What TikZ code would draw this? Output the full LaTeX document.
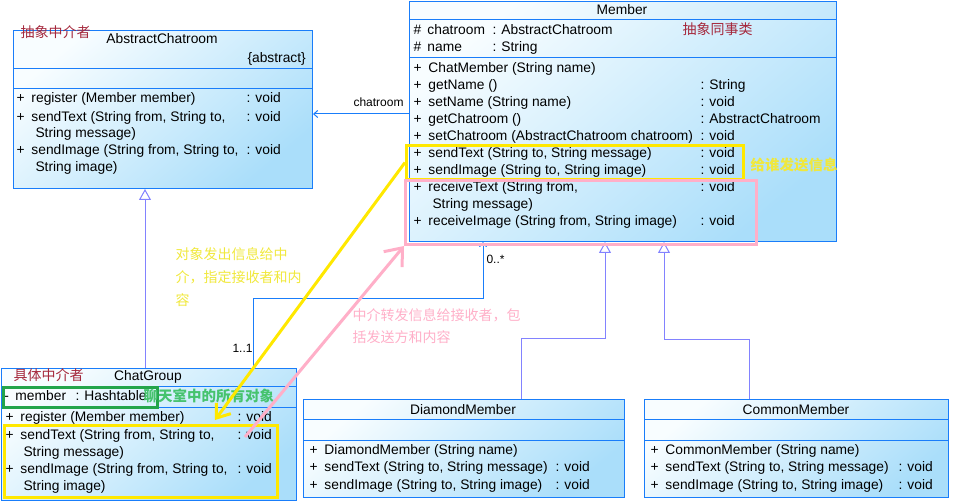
\documentclass[tikz,border=0pt]{standalone}
\usepackage{fontspec}
\setmainfont{Liberation Sans}
\newfontfamily\cjk{Noto Sans CJK SC}
\usepackage{xcolor}
\usepackage{tikz}
\usetikzlibrary{arrows.meta,positioning}

\definecolor{umlblue}{RGB}{25,125,250}
\definecolor{umllight}{RGB}{248,253,255}
\definecolor{umldark}{RGB}{170,222,250}
\definecolor{genline}{RGB}{130,130,255}
\definecolor{notered}{RGB}{165,40,60}
\definecolor{noteyellow}{RGB}{255,232,0}
\definecolor{textyellow}{RGB}{240,232,60}
\definecolor{notepink}{RGB}{255,175,200}
\definecolor{notegreen}{RGB}{35,165,75}
\definecolor{textgreen}{RGB}{70,195,110}

\newcommand{\umlplus}{\makebox[15pt][l]{+}}
\newcommand{\umlhash}{\makebox[14pt][l]{\#}}

\begin{document}
\begin{tikzpicture}[x=1pt,y=-1pt,line width=1pt,
    font=\fontsize{13.8}{17}\selectfont,
    classbox/.style={draw=umlblue,rectangle,inner sep=0pt,anchor=north west,
      top color=umllight,bottom color=umldark,shading angle=40},
    row/.style={anchor=base west,inner sep=0pt},
    title/.style={anchor=base,inner sep=0pt},
    cn/.style={anchor=base west,inner sep=0pt,font=\cjk\fontsize{14}{17}\selectfont},
    small/.style={anchor=base west,inner sep=0pt,font=\fontsize{12}{14}\selectfont},
    mark/.style={draw=#1,line width=3pt,rectangle,inner sep=0pt,anchor=north west},
    gen/.style={draw=genline,-{Triangle[fill=white,length=11pt,width=12pt,line width=1pt]}},
    assoc/.style={draw=umlblue,-{Straight Barb[length=4pt,width=7pt,line width=1pt]}},
    yarrow/.style={draw=noteyellow,line width=3pt,-{Straight Barb[length=12pt,width=18pt]}},
    parrow/.style={draw=notepink,line width=3pt,-{Straight Barb[length=15pt,width=24pt]}}]
  \useasboundingbox (0,0) rectangle (953,502);

  % class boxes
  \node[classbox,minimum width=299pt,minimum height=158pt] (abstract) at (13,30) {};
  \node[classbox,minimum width=427pt,minimum height=240pt] (member) at (409,1) {};
  \node[classbox,minimum width=295pt,minimum height=132pt] (group) at (1,368) {};
  \node[classbox,minimum width=321pt,minimum height=98pt] (diamond) at (303,399) {};
  \node[classbox,minimum width=304pt,minimum height=98pt] (common) at (644,399) {};

  % compartments
  \foreach \y in {69,89} \draw[umlblue] (abstract.west |- 0,\y) -- (abstract.east |- 0,\y);
  \foreach \y in {20,58} \draw[umlblue] (member.west |- 0,\y) -- (member.east |- 0,\y);
  \foreach \y in {387,407} \draw[umlblue] (group.west |- 0,\y) -- (group.east |- 0,\y);
  \foreach \y in {419,440} {
    \draw[umlblue] (diamond.west |- 0,\y) -- (diamond.east |- 0,\y);
    \draw[umlblue] (common.west |- 0,\y) -- (common.east |- 0,\y);
  }

  % AbstractChatroom
  \node[title] (abs-title) at (162,44) {AbstractChatroom};
  \node[row] (abs-tag) at (247,63) {\{abstract\}};
  \node[cn,text=notered] (abs-note) at (20,38) {抽象中介者};
  \foreach \y/\txt [count=\i] in {103/{register (Member member)},
      122/{sendText (String from, String to,},155/{sendImage (String from, String to,}}
    \node[row] (abs-op\i) at (16,\y) {\umlplus\txt};
  \node[row] (abs-cont1) at (35,138) {String message)};
  \node[row] (abs-cont2) at (35,172) {String image)};
  \foreach \y [count=\i] in {103,122,155}
    \node[row] (abs-type\i) at (246,\y) {: void};

  % Member
  \node[title] (mem-title) at (622,15) {Member};
  \node[cn,text=notered] (mem-note) at (682,35) {抽象同事类};
  \node[row] (mem-attr1) at (413,35) {\umlhash chatroom};
  \node[row] (mem-attr2) at (413,52) {\umlhash name};
  \node[row] (mem-atype1) at (492,35) {: AbstractChatroom};
  \node[row] (mem-atype2) at (492,52) {: String};
  \foreach \y/\txt [count=\i] in {73/{ChatMember (String name)},90/{getName ()},
      107/{setName (String name)},124/{getChatroom ()},
      141/{setChatroom (AbstractChatroom chatroom)},158/{sendText (String to, String message)},
      175/{sendImage (String to, String image)},192/{receiveText (String from,},
      226/{receiveImage (String from, String image)}}
    \node[row] (mem-op\i) at (413,\y) {\umlplus\txt};
  \node[row] (mem-cont) at (432,209) {String message)};
  \foreach \y/\txt [count=\i] in {90/String,107/void,124/AbstractChatroom,141/void,
      158/void,175/void,192/void,226/void}
    \node[row] (mem-type\i) at (700,\y) {: \txt};

  % ChatGroup
  \node[title] (grp-title) at (148,381) {ChatGroup};
  \node[cn,text=notered] (grp-note) at (13,381) {具体中介者};
  \node[row] (grp-attr) at (4,401) {\makebox[11pt][l]{-}member};
  \node[row] (grp-atype) at (75,401) {: Hashtable};
  \foreach \y/\txt [count=\i] in {421/{register (Member member)},
      439/{sendText (String from, String to,},473/{sendImage (String from, String to,}}
    \node[row] (grp-op\i) at (5,\y) {\umlplus\txt};
  \node[row] (grp-cont1) at (23,456) {String message)};
  \node[row] (grp-cont2) at (23,490) {String image)};
  \foreach \y [count=\i] in {421,439,473}
    \node[row] (grp-type\i) at (237,\y) {: void};

  % DiamondMember and CommonMember
  \node[title] (dia-title) at (463,414) {DiamondMember};
  \node[title] (com-title) at (796,414) {CommonMember};
  \node[row] (dia-op1) at (309,454) {\umlplus DiamondMember (String name)};
  \node[row] (com-op1) at (650,454) {\umlplus CommonMember (String name)};
  \foreach \y/\txt [count=\i] in {471/{sendText (String to, String message)},
      489/{sendImage (String to, String image)}} {
    \node[row] (dia-op\i x) at (309,\y) {\umlplus\txt};
    \node[row] (dia-type\i) at (555,\y) {: void};
    \node[row] (com-op\i x) at (650,\y) {\umlplus\txt};
    \node[row] (com-type\i) at (898,\y) {: void};
  }

  % relations
  \draw[assoc] (member.west |- 0,114) -- (abstract.east |- 0,114);
  \node[small] (role) at (353,107) {chatroom};
  \draw[assoc] (group.north -| 253,0) |- (483,299) -- (member.south -| 483,0);
  \node[small] (mult1) at (232,353) {1..1};
  \node[small] (mult2) at (486,264) {0..*};
  \draw[gen] (group.north -| 145,0) -- (abstract.south -| 145,0);
  \draw[gen] (diamond.north -| 521,0) |- (605,339) -- (member.south -| 605,0);
  \draw[gen] (common.north -| 749,0) |- (664,340) -- (member.south -| 664,0);

  % highlights
  \node[mark=noteyellow,minimum width=337pt,minimum height=34pt] (ymember) at (405,144) {};
  \node[mark=notepink,minimum width=351pt,minimum height=64pt] (pmember) at (404,179) {};
  \node[mark=notegreen,minimum width=154pt,minimum height=20pt] (ggroup) at (2,386) {};
  \node[mark=noteyellow,minimum width=273pt,minimum height=72pt] (ygroup) at (3,424) {};
  \node[cn,text=textyellow,font=\cjk\bfseries\fontsize{14.5}{17}\selectfont] (ynote) at (750,171) {给谁发送信息};
  \node[cn,text=textgreen,font=\cjk\bfseries\fontsize{14.5}{17}\selectfont] (gnote) at (143,402) {聊天室中的所有对象};
  \foreach \y/\txt [count=\i] in {260/{对象发出信息给中},283/{介，指定接收者和内},306/{容}}
    \node[cn,text=textyellow] (ysay\i) at (175,\y) {\txt};
  \foreach \y/\txt [count=\i] in {321/{中介转发信息给接收者，包},343/{括发送方和内容}}
    \node[cn,text=notepink] (psay\i) at (352,\y) {\txt};

  \coordinate (yend) at (215,420);
  \coordinate (pstart) at (245,437);
  \draw[yarrow] (ymember.west) -- (yend);
  \draw[parrow] (pstart) -- (pmember.south west);
\end{tikzpicture}
\end{document}
